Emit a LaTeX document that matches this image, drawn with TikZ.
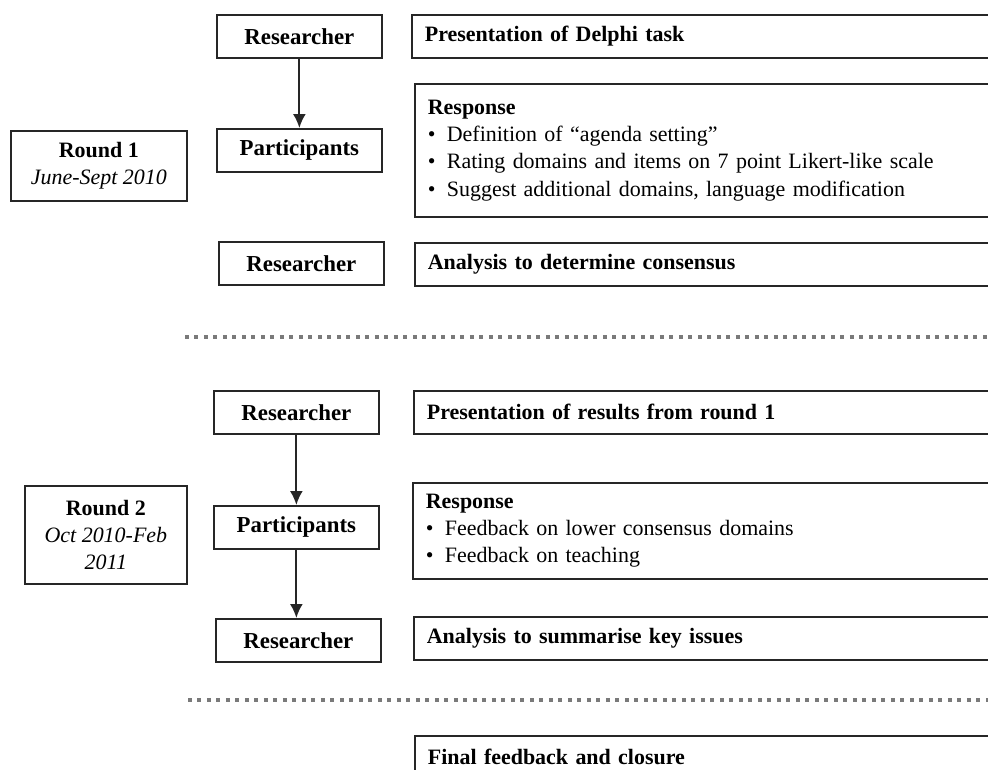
\documentclass[tikz,border=0pt]{standalone}
\usepackage{fontspec}
\setmainfont{Liberation Serif}
\usetikzlibrary{arrows.meta, positioning}
\definecolor{cline}{HTML}{262626}
\definecolor{cdots}{HTML}{7A7A7A}
\newcommand{\bul}[1]{\makebox[0.38cm][l]{\textbullet}#1}
\tikzset{
  every picture/.style={line width=1pt},
  box/.style={draw=cline, rectangle, anchor=north west, inner ysep=0pt, font=\fontsize{12.5}{15.5}\selectfont\bfseries},
  who/.style={box, minimum width=3.3cm, minimum height=0.86cm, align=center, font=\fontsize{13}{15.5}\selectfont\bfseries},
  what/.style={box, inner xsep=0.26cm, text width=11.26cm, minimum height=0.86cm, align=left},
  round/.style={box, align=center, font=\fontsize{12.5}{15.5}\selectfont},
  arrow/.style={-{Latex[length=2.8mm, width=2.6mm]}, draw=cline, line width=1.1pt},
  sep/.style={draw=cdots, line width=0.08cm, dash pattern=on 0.08cm off 0.11cm},
}

\begin{document}
\begin{tikzpicture}[x=0.02cm, y=-0.02cm]
  \clip (0,0) rectangle (988,769);
  % round 1
  \node[round, minimum width=3.52cm, minimum height=1.4cm] (rnd1) at (10,130) {\textbf{Round 1}\\\textit{June-Sept 2010}};
  \node[who] (res1) at (216,14) {Researcher};
  \node[who] (par1) at (216,128) {Participants};
  \node[who] (ana1w) at (218,241) {Researcher};
  \node[what] (pres1) at (411,14) {Presentation of Delphi task};
  \node[what, minimum height=2.66cm] (resp1) at (414,83) {Response\\{\mdseries\bul{Definition of ``agenda setting''}\\\bul{Rating domains and items on 7 point Likert-like scale}\\\bul{Suggest additional domains, language modification}}};
  \node[what] (ana1) at (414,242) {Analysis to determine consensus};
  \draw[arrow] (res1) -- (par1);
  \draw[sep] (185,337) -- (1000,337);
  % round 2
  \node[round, minimum width=3.24cm, minimum height=1.96cm] (rnd2) at (24,485) {\textbf{Round 2}\\\textit{Oct 2010-Feb}\\\textit{2011}};
  \node[who] (res2) at (213,390) {Researcher};
  \node[who] (par2) at (213,505) {Participants};
  \node[who] (ana2w) at (215,618) {Researcher};
  \node[what] (pres2) at (413,390) {Presentation of results from round 1};
  \node[what, minimum height=1.92cm] (resp2) at (412,482) {Response\\{\mdseries\bul{Feedback on lower consensus domains}\\\bul{Feedback on teaching}}};
  \node[what] (ana2) at (413,616) {Analysis to summarise key issues};
  \draw[arrow] (res2) -- (par2);
  \draw[arrow] (par2.south) -- (par2.south |- ana2w.north);
  \draw[sep] (188,700) -- (1000,700);
  % closure
  \node[what] (fin) at (414,735) {Final feedback and closure};
\end{tikzpicture}
\end{document}
